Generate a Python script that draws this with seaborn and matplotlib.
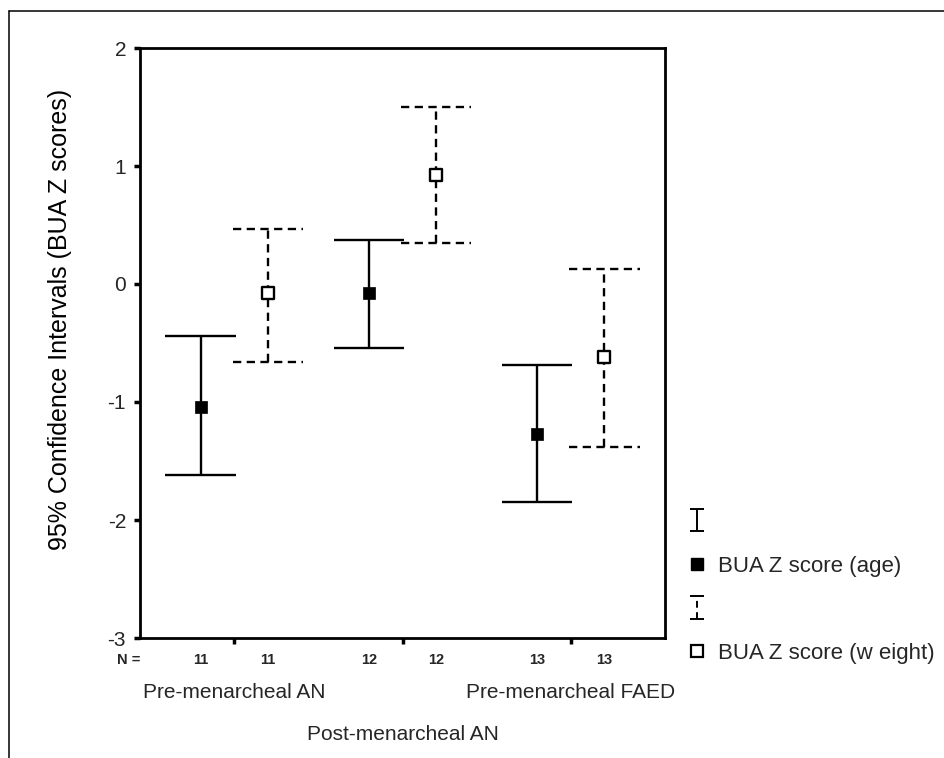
import matplotlib
matplotlib.use("Agg")
import matplotlib.pyplot as plt
import seaborn as sns
import pandas as pd
from matplotlib.lines import Line2D
from matplotlib.collections import LineCollection
from matplotlib.container import ErrorbarContainer

# ---- data ----
GROUPS = ["Pre-menarcheal AN", "Post-menarcheal AN", "Pre-menarcheal FAED"]
N_COUNTS = [11, 12, 13]
AGE_MEAN = [-1.04, -0.08, -1.27]
AGE_LO = [-1.62, -0.54, -1.85]
AGE_HI = [-0.44, 0.37, -0.69]
WT_MEAN = [-0.08, 0.92, -0.62]
WT_LO = [-0.66, 0.35, -1.38]
WT_HI = [0.47, 1.50, 0.13]
SERIES = ["BUA Z score (age)", "BUA Z score (w eight)"]
Y_TICKS = [-3, -2, -1, 0, 1, 2]

OFFSET = 0.2     # dodge of the two series inside a group
CAP_HALF = 0.21  # half width of the CI caps (data units)
DASH = (0, (3.5, 2.3))

sns.set_theme(style="white")
plt.rcParams["font.family"] = ["Liberation Sans", "DejaVu Sans"]


def build_frame():
    rows = []
    for i, g in enumerate(GROUPS):
        rows.append(dict(group=g, series=SERIES[0], n=N_COUNTS[i], x=i - OFFSET,
                         mean=AGE_MEAN[i], lo=AGE_LO[i], hi=AGE_HI[i]))
        rows.append(dict(group=g, series=SERIES[1], n=N_COUNTS[i], x=i + OFFSET,
                         mean=WT_MEAN[i], lo=WT_LO[i], hi=WT_HI[i]))
    return pd.DataFrame(rows)


df = build_frame()
age = df[df.series == SERIES[0]]
wt = df[df.series == SERIES[1]]

fig = plt.figure(figsize=(9.44, 7.58), dpi=100)
ax = fig.add_axes([140 / 944, 1 - 638 / 758, 525 / 944, 590 / 758])

# CI whiskers
ax.vlines(age.x, age.lo, age.hi, color="black", lw=1.7, zorder=2)
ax.hlines(list(age.lo) + list(age.hi), list(age.x - CAP_HALF) * 2,
          list(age.x + CAP_HALF) * 2, color="black", lw=1.7, zorder=2)
ax.vlines(wt.x, wt.lo, wt.hi, color="black", lw=1.7, linestyles=[DASH], zorder=2)
ax.hlines(list(wt.lo) + list(wt.hi), list(wt.x - CAP_HALF) * 2,
          list(wt.x + CAP_HALF) * 2, color="black", lw=1.7, linestyles=[DASH], zorder=2)

# means
sns.scatterplot(data=age, x="x", y="mean", marker="s", s=85, color="black",
                edgecolor="black", linewidth=0.5, ax=ax, zorder=3, legend=False)
sns.scatterplot(data=wt, x="x", y="mean", marker="s", s=72, facecolor="white",
                edgecolor="black", linewidth=1.7, ax=ax, zorder=3, legend=False)

ax.set_xlim(-0.56, 2.56)
ax.set_ylim(-3, 2)
ax.set_yticks(Y_TICKS)
ax.set_yticklabels([str(t) for t in Y_TICKS], fontsize=15)
ax.set_xticks(range(len(GROUPS)))
ax.set_xticklabels([])
ax.tick_params(axis="both", direction="out", length=4, width=2.5, color="black",
               left=True, bottom=True, pad=6)
for sp in ax.spines.values():
    sp.set_visible(True)
    sp.set_color("black")
    sp.set_linewidth(2)
ax.set_xlabel("")
ax.set_ylabel("95% Confidence Intervals (BUA Z scores)", fontsize=18, color="black")
ax.yaxis.set_label_coords(-0.13, 0.54)

# N counts under each mean, staggered group names
tr = ax.get_xaxis_transform()
ax.text(-0.63, -0.037, "N =", transform=tr, ha="center", va="center",
        fontsize=10.5, fontweight="bold")
for _, r in df.iterrows():
    ax.text(r.x, -0.037, str(r.n), transform=tr, ha="center", va="center",
            fontsize=10.5, fontweight="bold")
for i, g in enumerate(GROUPS):
    yy = -0.093 if i != 1 else -0.164
    ax.text(i, yy, g, transform=tr, ha="center", va="center", fontsize=15)


# legend: whisker icon, then marker with label
def whisker_handle(ls):
    bar = LineCollection([[(0, 0), (0, 1)]], colors="black", linewidths=1.4,
                         linestyles=[ls])
    cap = Line2D([], [], color="black", marker="_", markersize=10, mew=1.4, ls="none")
    return ErrorbarContainer((None, (cap,), (bar,)), has_xerr=False, has_yerr=True)


handles = [
    whisker_handle("solid"),
    Line2D([], [], marker="s", ls="none", color="black", markersize=8),
    whisker_handle(DASH),
    Line2D([], [], marker="s", ls="none", markerfacecolor="white",
           markeredgecolor="black", mew=1.6, markersize=8),
]
labels = ["", SERIES[0], "", SERIES[1]]
fig.legend(handles, labels, loc="upper left", bbox_to_anchor=(686 / 944, 1 - 512 / 758),
           frameon=False, fontsize=16, handlelength=0.95, handletextpad=0.5,
           labelspacing=1.02, borderpad=0, borderaxespad=0)

# outer frame of the original figure (top and left edges visible)
x0, y0 = 8.5 / 944, 1 - 11 / 758
fig.add_artist(Line2D([x0, 1.02], [y0, y0], color="black", lw=1.1,
                      transform=fig.transFigure))
fig.add_artist(Line2D([x0, x0], [-0.02, y0], color="black", lw=1.1,
                      transform=fig.transFigure))

fig.savefig("out.png", dpi=100, facecolor="white")
